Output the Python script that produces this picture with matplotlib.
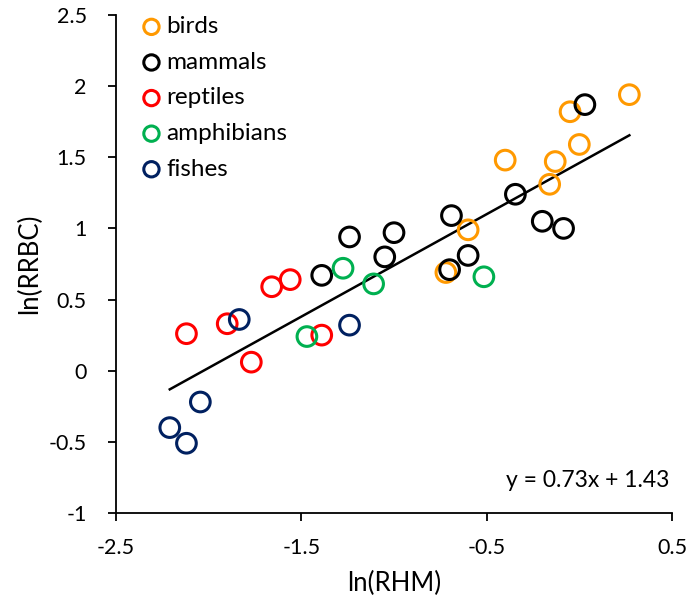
import matplotlib.pyplot as plt
import numpy as np

plt.rcParams['font.family'] = ['Lato', 'DejaVu Sans']

""" Data """

groups = ['birds', 'mammals', 'reptiles', 'amphibians', 'fishes']
colors = ['#FF9900', '#000000', '#FF0000', '#00B050', '#002060']

birds_x = [0.27, -0.05, 0.00, -0.13, -0.16, -0.40, -0.60, -0.72]
birds_y = [1.94, 1.82, 1.59, 1.47, 1.31, 1.48, 0.99, 0.69]

mammals_x = [0.03, -0.345, -0.20, -0.085, -0.69, -0.60, -0.70, -1.00, -1.05, -1.24, -1.39]
mammals_y = [1.87, 1.24, 1.05, 1.00, 1.09, 0.81, 0.71, 0.97, 0.80, 0.94, 0.67]

reptiles_x = [-2.12, -1.90, -1.66, -1.56, -1.77, -1.39]
reptiles_y = [0.26, 0.33, 0.59, 0.64, 0.06, 0.25]

amphibians_x = [-1.275, -1.11, -1.47, -0.515]
amphibians_y = [0.72, 0.61, 0.24, 0.66]

fishes_x = [-1.835, -1.24, -2.045, -2.21, -2.12]
fishes_y = [0.36, 0.32, -0.22, -0.40, -0.51]

xs = [birds_x, mammals_x, reptiles_x, amphibians_x, fishes_x]
ys = [birds_y, mammals_y, reptiles_y, amphibians_y, fishes_y]

# trend line as drawn in the picture, and its label
trend_slope = 0.72
trend_intercept = 1.46
equation = 'y = 0.73x + 1.43'

""" Plot """

fig = plt.figure(figsize=(6.89, 6.04), dpi=100)
ax = fig.add_axes([0.1684, 0.1507, 0.8069, 0.8245])

for name, c, x, y in zip(groups, colors, xs, ys):
    ax.scatter(x, y, s=200, facecolors='none', edgecolors=c, linewidths=2.2,
               label=name, zorder=3)

all_x = np.concatenate([np.array(v) for v in xs])
lx = np.array([all_x.min(), all_x.max()])
ax.plot(lx, trend_slope * lx + trend_intercept, color='black', linewidth=1.8, zorder=2)

ax.text(0.996, 0.066, equation, transform=ax.transAxes, ha='right', va='center',
        fontsize=16.5)

ax.set_xlim(-2.5, 0.5)
ax.set_ylim(-1, 2.5)
ax.set_xticks([-2.5, -1.5, -0.5, 0.5])
ax.set_xticklabels(['-2.5', '-1.5', '-0.5', '0.5'])
ax.set_yticks([-1, -0.5, 0, 0.5, 1, 1.5, 2, 2.5])
ax.set_yticklabels(['-1', '-0.5', '0', '0.5', '1', '1.5', '2', '2.5'])

ax.spines['right'].set_visible(False)
ax.spines['top'].set_visible(False)
for s in ['left', 'bottom']:
    ax.spines[s].set_linewidth(1.3)
ax.tick_params(direction='out', length=6, width=1.3, labelsize=15.5)
ax.tick_params(axis='y', pad=15)
ax.tick_params(axis='x', pad=12)

ax.set_xlabel('ln(RHM)', fontsize=18.5, labelpad=9)
ax.set_ylabel('ln(RRBC)', fontsize=18.5, labelpad=5)

ax.legend(loc='upper left', bbox_to_anchor=(0.02, 1.017), frameon=False,
          fontsize=17.5, markerscale=0.78, handletextpad=0.0, labelspacing=0.6,
          borderaxespad=0, handlelength=1.2)

plt.savefig('out.png', dpi=100)
